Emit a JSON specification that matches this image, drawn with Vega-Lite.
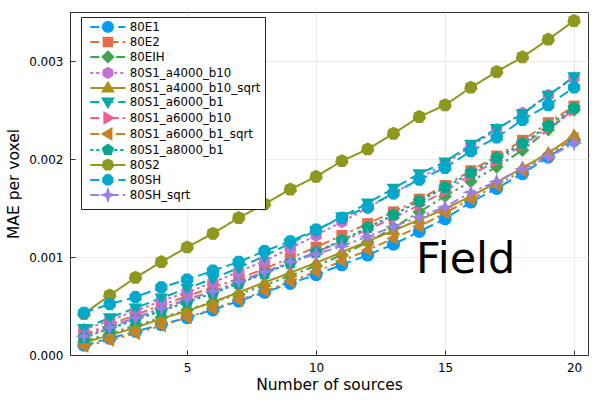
{
  "$schema": "https://vega.github.io/schema/vega-lite/v6.json",
  "width": 518,
  "height": 343,
  "autosize": {"type": "none"},
  "padding": {"left": 70, "top": 12, "right": 12, "bottom": 45},
  "background": "white",
  "config": {
    "font": "DejaVu Sans",
    "view": {"stroke": "#333333", "strokeWidth": 1},
    "axis": {
      "labelFontSize": 12,
      "labelColor": "#000000",
      "titleFontSize": 15.5,
      "titleFontWeight": "normal",
      "titleColor": "#000000",
      "gridColor": "#e6e6e6",
      "gridWidth": 0.8,
      "domainColor": "#333333",
      "tickColor": "#333333",
      "tickSize": -5,
      "labelPadding": 12
    },
    "legend": {
      "symbolSize": 64,
      "symbolStrokeWidth": 2,
      "labelFontSize": 11.8,
      "labelColor": "#000000"
    }
  },
  "params": [
    {"name": "legpaths", "value": [
      "M-4.4,0H-2.15M-0.9,0H1.35M2.6,0H4.4M1.24,0A1.24,1.24,0,1,1,-1.24,0A1.24,1.24,0,1,1,1.24,0Z",
      "M-4.4,0H-2.15M-1.15,0H-0.55M0.45,0H2.7M3.7,0H4.3M-1.06,-1.06H1.06V1.06H-1.06Z",
      "M-4.4,0H-2.15M-1.15,0H-0.55M0.45,0H1.05M2.05,0H4.3M0,-1.32L1.32,0L0,1.32L-1.32,0Z",
      "M-4.4,0H-3.65M-2.9,0H-2.15M-1.4,0H-0.65M0.1,0H0.85M1.6,0H2.35M3.1,0H3.85M0,-1.24L1.08,-0.62L1.08,0.62L0,1.24L-1.08,0.62L-1.08,-0.62Z",
      "M-4.4,0H4.4M0,-1.3L1.3,0.88L-1.3,0.88Z",
      "M-4.4,0H-2.15M-0.9,0H1.35M2.6,0H4.4M0,1.3L1.3,-0.88L-1.3,-0.88Z",
      "M-4.4,0H-2.15M-1.15,0H-0.55M0.45,0H2.7M3.7,0H4.3M1.3,0L-0.88,-1.3L-0.88,1.3Z",
      "M-4.4,0H-2.15M-1.15,0H-0.55M0.45,0H1.05M2.05,0H4.3M-1.3,0L0.88,-1.3L0.88,1.3Z",
      "M-4.4,0H-3.65M-2.9,0H-2.15M-1.4,0H-0.65M0.1,0H0.85M1.6,0H2.35M3.1,0H3.85M0,-1.3L1.236,-0.4L0.764,1.052L-0.764,1.052L-1.236,-0.4Z",
      "M-4.4,0H4.4M0,-1.3L1.016,-0.81L1.268,0.29L0.564,1.172L-0.564,1.172L-1.268,0.29L-1.016,-0.81Z",
      "M-4.4,0H-2.15M-0.9,0H1.35M2.6,0H4.4M0.474,-1.146L1.146,-0.474L1.146,0.474L0.474,1.146L-0.474,1.146L-1.146,0.474L-1.146,-0.474L-0.474,-1.146Z",
      "M-4.4,0H-2.15M-1.15,0H-0.55M0.45,0H2.7M3.7,0H4.3M0,-1.3L0.32,-0.32L1.3,0L0.32,0.32L0,1.3L-0.32,0.32L-1.3,0L-0.32,-0.32Z"
    ]},
    {"name": "legnames", "value": ["80E1", "80E2", "80EIH", "80S1_a4000_b10", "80S1_a4000_b10_sqrt", "80S1_a6000_b1", "80S1_a6000_b10", "80S1_a6000_b1_sqrt", "80S1_a8000_b1", "80S2", "80SH", "80SH_sqrt"]}
  ],
  "datasets": {
    "mae": [
      {"series": "80E1", "n": 1, "mae": 0.00010}, {"series": "80E1", "n": 2, "mae": 0.00017}, {"series": "80E1", "n": 3, "mae": 0.00024}, {"series": "80E1", "n": 4, "mae": 0.00031}, {"series": "80E1", "n": 5, "mae": 0.00038}, {"series": "80E1", "n": 6, "mae": 0.00046}, {"series": "80E1", "n": 7, "mae": 0.00055}, {"series": "80E1", "n": 8, "mae": 0.00064}, {"series": "80E1", "n": 9, "mae": 0.00073}, {"series": "80E1", "n": 10, "mae": 0.00082}, {"series": "80E1", "n": 11, "mae": 0.00092}, {"series": "80E1", "n": 12, "mae": 0.00102}, {"series": "80E1", "n": 13, "mae": 0.00113}, {"series": "80E1", "n": 14, "mae": 0.00126}, {"series": "80E1", "n": 15, "mae": 0.00139}, {"series": "80E1", "n": 16, "mae": 0.00156}, {"series": "80E1", "n": 17, "mae": 0.00170}, {"series": "80E1", "n": 18, "mae": 0.00185}, {"series": "80E1", "n": 19, "mae": 0.00202}, {"series": "80E1", "n": 20, "mae": 0.00219},
      {"series": "80E2", "n": 1, "mae": 0.00021}, {"series": "80E2", "n": 2, "mae": 0.00031}, {"series": "80E2", "n": 3, "mae": 0.00041}, {"series": "80E2", "n": 4, "mae": 0.00051}, {"series": "80E2", "n": 5, "mae": 0.00060}, {"series": "80E2", "n": 6, "mae": 0.00069}, {"series": "80E2", "n": 7, "mae": 0.00078}, {"series": "80E2", "n": 8, "mae": 0.00088}, {"series": "80E2", "n": 9, "mae": 0.00099}, {"series": "80E2", "n": 10, "mae": 0.00110}, {"series": "80E2", "n": 11, "mae": 0.00122}, {"series": "80E2", "n": 12, "mae": 0.00134}, {"series": "80E2", "n": 13, "mae": 0.00146}, {"series": "80E2", "n": 14, "mae": 0.00159}, {"series": "80E2", "n": 15, "mae": 0.00173}, {"series": "80E2", "n": 16, "mae": 0.00188}, {"series": "80E2", "n": 17, "mae": 0.00203}, {"series": "80E2", "n": 18, "mae": 0.00219}, {"series": "80E2", "n": 19, "mae": 0.00237}, {"series": "80E2", "n": 20, "mae": 0.00254},
      {"series": "80EIH", "n": 1, "mae": 0.00014}, {"series": "80EIH", "n": 2, "mae": 0.00022}, {"series": "80EIH", "n": 3, "mae": 0.00030}, {"series": "80EIH", "n": 4, "mae": 0.00038}, {"series": "80EIH", "n": 5, "mae": 0.00046}, {"series": "80EIH", "n": 6, "mae": 0.00054}, {"series": "80EIH", "n": 7, "mae": 0.00062}, {"series": "80EIH", "n": 8, "mae": 0.00071}, {"series": "80EIH", "n": 9, "mae": 0.00081}, {"series": "80EIH", "n": 10, "mae": 0.00091}, {"series": "80EIH", "n": 11, "mae": 0.00102}, {"series": "80EIH", "n": 12, "mae": 0.00115}, {"series": "80EIH", "n": 13, "mae": 0.00130}, {"series": "80EIH", "n": 14, "mae": 0.00146}, {"series": "80EIH", "n": 15, "mae": 0.00162}, {"series": "80EIH", "n": 16, "mae": 0.00177}, {"series": "80EIH", "n": 17, "mae": 0.00192}, {"series": "80EIH", "n": 18, "mae": 0.00209}, {"series": "80EIH", "n": 19, "mae": 0.00230}, {"series": "80EIH", "n": 20, "mae": 0.00250},
      {"series": "80S1_a4000_b10", "n": 1, "mae": 0.00026}, {"series": "80S1_a4000_b10", "n": 2, "mae": 0.00035}, {"series": "80S1_a4000_b10", "n": 3, "mae": 0.00045}, {"series": "80S1_a4000_b10", "n": 4, "mae": 0.00055}, {"series": "80S1_a4000_b10", "n": 5, "mae": 0.00064}, {"series": "80S1_a4000_b10", "n": 6, "mae": 0.00074}, {"series": "80S1_a4000_b10", "n": 7, "mae": 0.00085}, {"series": "80S1_a4000_b10", "n": 8, "mae": 0.00096}, {"series": "80S1_a4000_b10", "n": 9, "mae": 0.00109}, {"series": "80S1_a4000_b10", "n": 10, "mae": 0.00122}, {"series": "80S1_a4000_b10", "n": 11, "mae": 0.00136}, {"series": "80S1_a4000_b10", "n": 12, "mae": 0.00150}, {"series": "80S1_a4000_b10", "n": 13, "mae": 0.00165}, {"series": "80S1_a4000_b10", "n": 14, "mae": 0.00180}, {"series": "80S1_a4000_b10", "n": 15, "mae": 0.00195}, {"series": "80S1_a4000_b10", "n": 16, "mae": 0.00213}, {"series": "80S1_a4000_b10", "n": 17, "mae": 0.00230}, {"series": "80S1_a4000_b10", "n": 18, "mae": 0.00247}, {"series": "80S1_a4000_b10", "n": 19, "mae": 0.00265}, {"series": "80S1_a4000_b10", "n": 20, "mae": 0.00283},
      {"series": "80S1_a4000_b10_sqrt", "n": 1, "mae": 0.00013}, {"series": "80S1_a4000_b10_sqrt", "n": 2, "mae": 0.00020}, {"series": "80S1_a4000_b10_sqrt", "n": 3, "mae": 0.00028}, {"series": "80S1_a4000_b10_sqrt", "n": 4, "mae": 0.00037}, {"series": "80S1_a4000_b10_sqrt", "n": 5, "mae": 0.00045}, {"series": "80S1_a4000_b10_sqrt", "n": 6, "mae": 0.00054}, {"series": "80S1_a4000_b10_sqrt", "n": 7, "mae": 0.00064}, {"series": "80S1_a4000_b10_sqrt", "n": 8, "mae": 0.00074}, {"series": "80S1_a4000_b10_sqrt", "n": 9, "mae": 0.00084}, {"series": "80S1_a4000_b10_sqrt", "n": 10, "mae": 0.00094}, {"series": "80S1_a4000_b10_sqrt", "n": 11, "mae": 0.00105}, {"series": "80S1_a4000_b10_sqrt", "n": 12, "mae": 0.00116}, {"series": "80S1_a4000_b10_sqrt", "n": 13, "mae": 0.00127}, {"series": "80S1_a4000_b10_sqrt", "n": 14, "mae": 0.00138}, {"series": "80S1_a4000_b10_sqrt", "n": 15, "mae": 0.00149}, {"series": "80S1_a4000_b10_sqrt", "n": 16, "mae": 0.00162}, {"series": "80S1_a4000_b10_sqrt", "n": 17, "mae": 0.00176}, {"series": "80S1_a4000_b10_sqrt", "n": 18, "mae": 0.00191}, {"series": "80S1_a4000_b10_sqrt", "n": 19, "mae": 0.00206}, {"series": "80S1_a4000_b10_sqrt", "n": 20, "mae": 0.00224},
      {"series": "80S1_a6000_b1", "n": 1, "mae": 0.00027}, {"series": "80S1_a6000_b1", "n": 2, "mae": 0.00038}, {"series": "80S1_a6000_b1", "n": 3, "mae": 0.00048}, {"series": "80S1_a6000_b1", "n": 4, "mae": 0.00058}, {"series": "80S1_a6000_b1", "n": 5, "mae": 0.00068}, {"series": "80S1_a6000_b1", "n": 6, "mae": 0.00078}, {"series": "80S1_a6000_b1", "n": 7, "mae": 0.00089}, {"series": "80S1_a6000_b1", "n": 8, "mae": 0.00101}, {"series": "80S1_a6000_b1", "n": 9, "mae": 0.00114}, {"series": "80S1_a6000_b1", "n": 10, "mae": 0.00127}, {"series": "80S1_a6000_b1", "n": 11, "mae": 0.00141}, {"series": "80S1_a6000_b1", "n": 12, "mae": 0.00155}, {"series": "80S1_a6000_b1", "n": 13, "mae": 0.00170}, {"series": "80S1_a6000_b1", "n": 14, "mae": 0.00185}, {"series": "80S1_a6000_b1", "n": 15, "mae": 0.00197}, {"series": "80S1_a6000_b1", "n": 16, "mae": 0.00215}, {"series": "80S1_a6000_b1", "n": 17, "mae": 0.00231}, {"series": "80S1_a6000_b1", "n": 18, "mae": 0.00246}, {"series": "80S1_a6000_b1", "n": 19, "mae": 0.00265}, {"series": "80S1_a6000_b1", "n": 20, "mae": 0.00284},
      {"series": "80S1_a6000_b10", "n": 1, "mae": 0.00020}, {"series": "80S1_a6000_b10", "n": 2, "mae": 0.00029}, {"series": "80S1_a6000_b10", "n": 3, "mae": 0.00038}, {"series": "80S1_a6000_b10", "n": 4, "mae": 0.00047}, {"series": "80S1_a6000_b10", "n": 5, "mae": 0.00056}, {"series": "80S1_a6000_b10", "n": 6, "mae": 0.00065}, {"series": "80S1_a6000_b10", "n": 7, "mae": 0.00074}, {"series": "80S1_a6000_b10", "n": 8, "mae": 0.00084}, {"series": "80S1_a6000_b10", "n": 9, "mae": 0.00094}, {"series": "80S1_a6000_b10", "n": 10, "mae": 0.00105}, {"series": "80S1_a6000_b10", "n": 11, "mae": 0.00116}, {"series": "80S1_a6000_b10", "n": 12, "mae": 0.00128}, {"series": "80S1_a6000_b10", "n": 13, "mae": 0.00140}, {"series": "80S1_a6000_b10", "n": 14, "mae": 0.00153}, {"series": "80S1_a6000_b10", "n": 15, "mae": 0.00167}, {"series": "80S1_a6000_b10", "n": 16, "mae": 0.00184}, {"series": "80S1_a6000_b10", "n": 17, "mae": 0.00198}, {"series": "80S1_a6000_b10", "n": 18, "mae": 0.00214}, {"series": "80S1_a6000_b10", "n": 19, "mae": 0.00232}, {"series": "80S1_a6000_b10", "n": 20, "mae": 0.00250},
      {"series": "80S1_a6000_b1_sqrt", "n": 1, "mae": 0.00009}, {"series": "80S1_a6000_b1_sqrt", "n": 2, "mae": 0.00015}, {"series": "80S1_a6000_b1_sqrt", "n": 3, "mae": 0.00022}, {"series": "80S1_a6000_b1_sqrt", "n": 4, "mae": 0.00030}, {"series": "80S1_a6000_b1_sqrt", "n": 5, "mae": 0.00038}, {"series": "80S1_a6000_b1_sqrt", "n": 6, "mae": 0.00047}, {"series": "80S1_a6000_b1_sqrt", "n": 7, "mae": 0.00056}, {"series": "80S1_a6000_b1_sqrt", "n": 8, "mae": 0.00065}, {"series": "80S1_a6000_b1_sqrt", "n": 9, "mae": 0.00075}, {"series": "80S1_a6000_b1_sqrt", "n": 10, "mae": 0.00085}, {"series": "80S1_a6000_b1_sqrt", "n": 11, "mae": 0.00096}, {"series": "80S1_a6000_b1_sqrt", "n": 12, "mae": 0.00107}, {"series": "80S1_a6000_b1_sqrt", "n": 13, "mae": 0.00119}, {"series": "80S1_a6000_b1_sqrt", "n": 14, "mae": 0.00131}, {"series": "80S1_a6000_b1_sqrt", "n": 15, "mae": 0.00145}, {"series": "80S1_a6000_b1_sqrt", "n": 16, "mae": 0.00159}, {"series": "80S1_a6000_b1_sqrt", "n": 17, "mae": 0.00173}, {"series": "80S1_a6000_b1_sqrt", "n": 18, "mae": 0.00188}, {"series": "80S1_a6000_b1_sqrt", "n": 19, "mae": 0.00204}, {"series": "80S1_a6000_b1_sqrt", "n": 20, "mae": 0.00221},
      {"series": "80S1_a8000_b1", "n": 1, "mae": 0.00018}, {"series": "80S1_a8000_b1", "n": 2, "mae": 0.00027}, {"series": "80S1_a8000_b1", "n": 3, "mae": 0.00036}, {"series": "80S1_a8000_b1", "n": 4, "mae": 0.00045}, {"series": "80S1_a8000_b1", "n": 5, "mae": 0.00054}, {"series": "80S1_a8000_b1", "n": 6, "mae": 0.00063}, {"series": "80S1_a8000_b1", "n": 7, "mae": 0.00073}, {"series": "80S1_a8000_b1", "n": 8, "mae": 0.00083}, {"series": "80S1_a8000_b1", "n": 9, "mae": 0.00094}, {"series": "80S1_a8000_b1", "n": 10, "mae": 0.00105}, {"series": "80S1_a8000_b1", "n": 11, "mae": 0.00117}, {"series": "80S1_a8000_b1", "n": 12, "mae": 0.00130}, {"series": "80S1_a8000_b1", "n": 13, "mae": 0.00143}, {"series": "80S1_a8000_b1", "n": 14, "mae": 0.00157}, {"series": "80S1_a8000_b1", "n": 15, "mae": 0.00171}, {"series": "80S1_a8000_b1", "n": 16, "mae": 0.00186}, {"series": "80S1_a8000_b1", "n": 17, "mae": 0.00201}, {"series": "80S1_a8000_b1", "n": 18, "mae": 0.00216}, {"series": "80S1_a8000_b1", "n": 19, "mae": 0.00234}, {"series": "80S1_a8000_b1", "n": 20, "mae": 0.00252},
      {"series": "80S2", "n": 1, "mae": 0.00042}, {"series": "80S2", "n": 2, "mae": 0.00061}, {"series": "80S2", "n": 3, "mae": 0.00079}, {"series": "80S2", "n": 4, "mae": 0.00095}, {"series": "80S2", "n": 5, "mae": 0.00110}, {"series": "80S2", "n": 6, "mae": 0.00124}, {"series": "80S2", "n": 7, "mae": 0.00140}, {"series": "80S2", "n": 8, "mae": 0.00154}, {"series": "80S2", "n": 9, "mae": 0.00169}, {"series": "80S2", "n": 10, "mae": 0.00182}, {"series": "80S2", "n": 11, "mae": 0.00198}, {"series": "80S2", "n": 12, "mae": 0.00210}, {"series": "80S2", "n": 13, "mae": 0.00226}, {"series": "80S2", "n": 14, "mae": 0.00243}, {"series": "80S2", "n": 15, "mae": 0.00255}, {"series": "80S2", "n": 16, "mae": 0.00273}, {"series": "80S2", "n": 17, "mae": 0.00289}, {"series": "80S2", "n": 18, "mae": 0.00304}, {"series": "80S2", "n": 19, "mae": 0.00322}, {"series": "80S2", "n": 20, "mae": 0.00341},
      {"series": "80SH", "n": 1, "mae": 0.00043}, {"series": "80SH", "n": 2, "mae": 0.00052}, {"series": "80SH", "n": 3, "mae": 0.00059}, {"series": "80SH", "n": 4, "mae": 0.00069}, {"series": "80SH", "n": 5, "mae": 0.00077}, {"series": "80SH", "n": 6, "mae": 0.00086}, {"series": "80SH", "n": 7, "mae": 0.00095}, {"series": "80SH", "n": 8, "mae": 0.00106}, {"series": "80SH", "n": 9, "mae": 0.00116}, {"series": "80SH", "n": 10, "mae": 0.00128}, {"series": "80SH", "n": 11, "mae": 0.00140}, {"series": "80SH", "n": 12, "mae": 0.00151}, {"series": "80SH", "n": 13, "mae": 0.00165}, {"series": "80SH", "n": 14, "mae": 0.00179}, {"series": "80SH", "n": 15, "mae": 0.00191}, {"series": "80SH", "n": 16, "mae": 0.00208}, {"series": "80SH", "n": 17, "mae": 0.00222}, {"series": "80SH", "n": 18, "mae": 0.00240}, {"series": "80SH", "n": 19, "mae": 0.00255}, {"series": "80SH", "n": 20, "mae": 0.00273},
      {"series": "80SH_sqrt", "n": 1, "mae": 0.00019}, {"series": "80SH_sqrt", "n": 2, "mae": 0.00028}, {"series": "80SH_sqrt", "n": 3, "mae": 0.00038}, {"series": "80SH_sqrt", "n": 4, "mae": 0.00048}, {"series": "80SH_sqrt", "n": 5, "mae": 0.00057}, {"series": "80SH_sqrt", "n": 6, "mae": 0.00065}, {"series": "80SH_sqrt", "n": 7, "mae": 0.00075}, {"series": "80SH_sqrt", "n": 8, "mae": 0.00085}, {"series": "80SH_sqrt", "n": 9, "mae": 0.00095}, {"series": "80SH_sqrt", "n": 10, "mae": 0.00103}, {"series": "80SH_sqrt", "n": 11, "mae": 0.00111}, {"series": "80SH_sqrt", "n": 12, "mae": 0.00121}, {"series": "80SH_sqrt", "n": 13, "mae": 0.00131}, {"series": "80SH_sqrt", "n": 14, "mae": 0.00141}, {"series": "80SH_sqrt", "n": 15, "mae": 0.00151}, {"series": "80SH_sqrt", "n": 16, "mae": 0.00166}, {"series": "80SH_sqrt", "n": 17, "mae": 0.00177}, {"series": "80SH_sqrt", "n": 18, "mae": 0.00190}, {"series": "80SH_sqrt", "n": 19, "mae": 0.00202}, {"series": "80SH_sqrt", "n": 20, "mae": 0.00216}
    ],
    "note": [{"n": 15.8, "mae": 0.00097, "label": "Field"}]
  },
  "encoding": {
    "x": {
      "field": "n",
      "type": "quantitative",
      "scale": {"domain": [0.46, 20.54], "nice": false, "zero": false},
      "axis": {"values": [5, 10, 15, 20], "title": "Number of sources", "titlePadding": 4, "grid": true}
    },
    "y": {
      "field": "mae",
      "type": "quantitative",
      "scale": {"domain": [0, 0.0035], "nice": false},
      "axis": {"values": [0, 0.001, 0.002, 0.003], "format": ".3f", "title": "MAE per voxel", "titlePadding": 7, "grid": true}
    }
  },
  "layer": [
    {
      "data": {"name": "mae"},
      "mark": {"type": "line", "strokeWidth": 2, "clip": true},
      "encoding": {
        "color": {
          "field": "series",
          "type": "nominal",
          "scale": {
            "domain": ["80E1", "80E2", "80EIH", "80S1_a4000_b10", "80S1_a4000_b10_sqrt", "80S1_a6000_b1", "80S1_a6000_b10", "80S1_a6000_b1_sqrt", "80S1_a8000_b1", "80S2", "80SH", "80SH_sqrt"],
            "range": ["#009AFA", "#E36F47", "#3EA44E", "#C371D2", "#AC8E18", "#00AAAE", "#ED5E93", "#C68225", "#00A98D", "#8E971E", "#00A8CB", "#9B7FE9"]
          },
          "legend": {
            "title": null,
            "orient": "none",
            "legendX": 11,
            "legendY": 5,
            "padding": 4,
            "fillColor": "white",
            "strokeColor": "#222222",
            "cornerRadius": 0,
            "symbolOffset": 17,
            "labelOffset": 16,
            "rowPadding": -11.5,
            "encode": {
              "symbols": {
                "update": {
                  "shape": {"signal": "legpaths[indexof(legnames, datum.value)]"},
                  "fill": {"signal": "scale('color', datum.value)"},
                  "stroke": {"signal": "scale('color', datum.value)"},
                  "strokeDash": {"value": [1, 0]},
                  "opacity": {"value": 1}
                }
              }
            }
          }
        },
        "strokeDash": {
          "field": "series",
          "type": "nominal",
          "legend": null,
          "scale": {
            "domain": ["80SH_sqrt", "80SH", "80S2", "80S1_a8000_b1", "80S1_a6000_b1_sqrt", "80S1_a6000_b10", "80S1_a6000_b1", "80S1_a4000_b10_sqrt", "80S1_a4000_b10", "80EIH", "80E2", "80E1"],
            "range": [[9, 4, 2.5, 4], [10, 5], [1, 0], [3, 3], [9, 4, 2.5, 4, 2.5, 4], [9, 4, 2.5, 4], [10, 5], [1, 0], [3, 3], [9, 4, 2.5, 4, 2.5, 4], [9, 4, 2.5, 4], [10, 5]]
          }
        }
      }
    },
    {
      "data": {"name": "mae"},
      "mark": {"type": "point", "filled": true, "size": 169, "opacity": 1, "strokeWidth": 0, "clip": true},
      "encoding": {
        "color": {"field": "series", "type": "nominal"},
        "shape": {
          "field": "series",
          "type": "nominal",
          "legend": null,
          "scale": {
            "domain": ["80SH_sqrt", "80SH", "80S2", "80S1_a8000_b1", "80S1_a6000_b1_sqrt", "80S1_a6000_b10", "80S1_a6000_b1", "80S1_a4000_b10_sqrt", "80S1_a4000_b10", "80EIH", "80E2", "80E1"],
            "range": [
              "M0,-1.3L0.3,-0.3L1.3,0L0.3,0.3L0,1.3L-0.3,0.3L-1.3,0L-0.3,-0.3Z",
              "M0.39,-0.942L0.942,-0.39L0.942,0.39L0.39,0.942L-0.39,0.942L-0.942,0.39L-0.942,-0.39L-0.39,-0.942Z",
              "M0,-1.05L0.821,-0.655L1.024,0.234L0.456,0.946L-0.456,0.946L-1.024,0.234L-0.821,-0.655Z",
              "M0,-1.05L0.999,-0.324L0.617,0.849L-0.617,0.849L-0.999,-0.324Z",
              "M-1.1,0L0.7,-1.05L0.7,1.05Z",
              "M1.1,0L-0.7,-1.05L-0.7,1.05Z",
              "M0,1.1L1.05,-0.7L-1.05,-0.7Z",
              "M0,-1.1L1.05,0.7L-1.05,0.7Z",
              "M0,-1L0.866,-0.5L0.866,0.5L0,1L-0.866,0.5L-0.866,-0.5Z",
              "M0,-1.05L1.05,0L0,1.05L-1.05,0Z",
              "M-0.85,-0.85H0.85V0.85H-0.85Z",
              "circle"
            ]
          }
        }
      }
    },
    {
      "data": {"name": "note"},
      "mark": {"type": "text", "fontSize": 43, "align": "center", "baseline": "middle", "color": "#000000"},
      "encoding": {"text": {"field": "label"}}
    }
  ]
}
